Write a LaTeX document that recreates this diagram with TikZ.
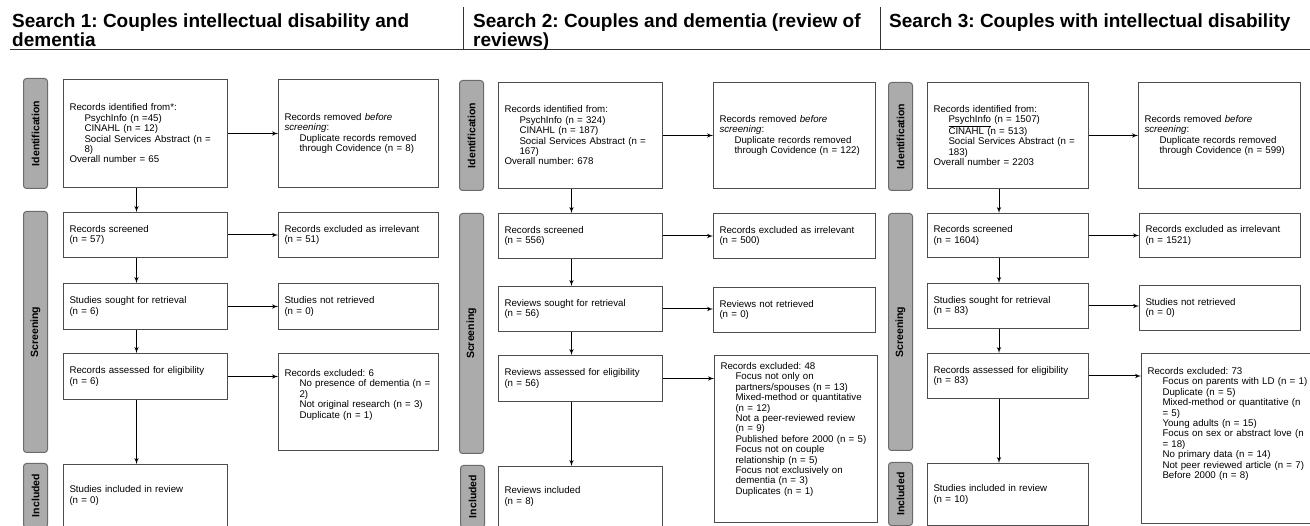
\documentclass[tikz,border=0pt]{standalone}
\usepackage{fontspec}
\setmainfont{Liberation Sans}
\usepackage{graphicx}
\usepackage{xcolor}
\usepackage{tikz}
\usetikzlibrary{positioning, arrows}
\definecolor{edgegray}{HTML}{4D4D4D}
\definecolor{phasegray}{HTML}{ABABAB}
\definecolor{phaseedge}{HTML}{6B6B6B}
\frenchspacing
\newcommand{\subind}{\hspace*{15pt}}
\newcommand{\boxfont}{\fontsize{9.7}{10.4}\selectfont}
\tikzstyle{line} = [draw, line width=1pt, -latex']
\tikzstyle{block} = [rectangle, draw=edgegray, line width=1pt, fill=white,
    anchor=north west, inner xsep=6pt, inner ysep=1pt, align=left, font=\boxfont]
\tikzstyle{phase} = [rectangle, draw=phaseedge, line width=1pt, fill=phasegray,
    rounded corners=3pt, anchor=north west, minimum width=24pt, inner sep=0pt,
    font=\fontsize{10.5}{12}\selectfont\bfseries]
\tikzstyle{heading} = [anchor=north west, inner sep=0pt, align=left,
    font=\fontsize{19}{19}\selectfont\bfseries]
\tikzstyle{rule} = [draw=black!80, line width=1pt]

\begin{document}
\begin{tikzpicture}[x=1pt, y=-1pt]
      \useasboundingbox (0,0) rectangle (1310,526);
      % Headings
      \node [heading] (head1) at (12,14) {Search 1: Couples intellectual disability and\\dementia};
      \node [heading] (head2) at (473,14) {Search 2: Couples and dementia (review of\\reviews)};
      \node [heading] (head3) at (889,14) {Search 3: Couples with intellectual disability};
      \path [rule] (10,50) -- (1310,50);
      \path [rule] (463,7) -- (463,50);
      \path [rule] (880,7) -- (880,50);
      % Place search 1 nodes
      \node [phase, minimum height=110pt] (idlab1) at (23,78) {\rotatebox{90}{Identification}};
      \node [phase, minimum height=241pt] (scrlab1) at (23,211) {\rotatebox{90}{Screening}};
      \node [phase, minimum height=64pt] (inclab1) at (23,463) {\rotatebox{90}{Included}};
      \node [block, text width=152pt, minimum height=108pt] (ident1) at (63,79) {Records identified from*:\\\subind PsychInfo (n =45)\\\subind CINAHL (n = 12)\\\subind Social Services Abstract (n =\\\subind 8)\\Overall number = 65};
      \node [block, text width=148pt, minimum height=108pt] (removed1) at (278,79) {Records removed \textit{before}\\\textit{screening}:\\\subind Duplicate records removed\\\subind through Covidence (n = 8)};
      \node [block, text width=152pt, minimum height=45pt] (screened1) at (63,212) {Records screened\\(n = 57)};
      \node [block, text width=148pt, minimum height=45pt] (irrel1) at (278,212) {Records excluded as irrelevant\\(n = 51)};
      \node [block, text width=152pt, minimum height=46pt] (sought1) at (63,283) {Studies sought for retrieval\\(n = 6)};
      \node [block, text width=148pt, minimum height=46pt] (notret1) at (278,283) {Studies not retrieved\\(n = 0)};
      \node [block, text width=152pt, minimum height=46pt] (elig1) at (63,353) {Records assessed for eligibility\\(n = 6)};
      \node [block, text width=148pt, inner ysep=16pt, text depth=58pt] (excl1) at (278,353) {Records excluded: 6\\\subind No presence of dementia (n =\\\subind 2)\\\subind Not original research (n = 3)\\\subind Duplicate (n = 1)};
      \node [block, text width=152pt, minimum height=62pt] (incl1) at (63,464) {Studies included in review\\(n = 0)};
      % Place search 2 nodes
      \node [phase, minimum height=110pt] (idlab2) at (459,80) {\rotatebox{90}{Identification}};
      \node [phase, minimum height=240pt] (scrlab2) at (459,213) {\rotatebox{90}{Screening}};
      \node [phase, minimum height=62pt] (inclab2) at (460,465) {\rotatebox{90}{Included}};
      \node [block, text width=152pt, minimum height=106pt] (ident2) at (498,82) {Records identified from:\\\subind PsychInfo (n = 324)\\\subind CINAHL (n = 187)\\\subind Social Services Abstract (n =\\\subind 167)\\Overall number: 678};
      \node [block, text width=150pt, minimum height=106pt] (removed2) at (713,82) {Records removed \textit{before}\\\textit{screening}:\\\subind Duplicate records removed\\\subind through Covidence (n = 122)};
      \node [block, text width=152pt, minimum height=45pt] (screened2) at (498,213) {Records screened\\(n = 556)};
      \node [block, text width=150pt, minimum height=45pt] (irrel2) at (713,213) {Records excluded as irrelevant\\(n = 500)};
      \node [block, text width=152pt, minimum height=45pt] (sought2) at (498,286) {Reviews sought for retrieval\\(n = 56)};
      \node [block, text width=150pt, minimum height=45pt] (notret2) at (713,287) {Reviews not retrieved\\(n = 0)};
      \node [block, text width=152pt, minimum height=46pt] (elig2) at (498,355) {Reviews assessed for eligibility\\(n = 56)};
      \node [block, text width=151pt, inner ysep=7pt, text depth=146pt] (excl2) at (714,355) {Records excluded: 48\\\subind Focus not only on\\\subind partners/spouses (n = 13)\\\subind Mixed-method or quantitative\\\subind (n = 12)\\\subind Not a peer-reviewed review\\\subind (n = 9)\\\subind Published before 2000 (n = 5)\\\subind Focus not on couple\\\subind relationship (n = 5)\\\subind Focus not exclusively on\\\subind dementia (n = 3)\\\subind Duplicates (n = 1)};
      \node [block, text width=152pt, minimum height=60pt] (incl2) at (498,466) {Reviews included\\(n = 8)};
      % Place search 3 nodes
      \node [phase, minimum height=108pt] (idlab3) at (888,82) {\rotatebox{90}{Identification}};
      \node [phase, minimum height=237pt] (scrlab3) at (888,213) {\rotatebox{90}{Screening}};
      \node [phase, minimum height=63pt] (inclab3) at (888,462) {\rotatebox{90}{Included}};
      \node [block, text width=149pt, minimum height=106pt] (ident3) at (927,82) {Records identified from:\\\subind \underline{PsychInfo} (n = 1507)\\\subind CINAHL (n = 513)\\\subind Social Services Abstract (n =\\\subind 183)\\Overall number = 2203};
      \node [block, text width=150pt, minimum height=106pt] (removed3) at (1138,82) {Records removed \textit{before}\\\textit{screening}:\\\subind Duplicate records removed\\\subind through Covidence (n = 599)};
      \node [block, text width=149pt, minimum height=44pt] (screened3) at (927,213) {Records screened\\(n = 1604)};
      \node [block, text width=149pt, minimum height=44pt] (irrel3) at (1139,213) {Records excluded as irrelevant\\(n = 1521)};
      \node [block, text width=149pt, minimum height=45pt] (sought3) at (927,283) {Studies sought for retrieval\\(n = 83)};
      \node [block, text width=149pt, minimum height=45pt] (notret3) at (1139,285) {Studies not retrieved\\(n = 0)};
      \node [block, text width=149pt, minimum height=45pt] (elig3) at (927,353) {Records assessed for eligibility\\(n = 83)};
      \node [block, text width=168pt, inner ysep=14pt, text depth=135pt] (excl3) at (1141,353) {Records excluded: 73\\\subind Focus on parents with LD (n = 1)\\\subind Duplicate (n = 5)\\\subind Mixed-method or quantitative (n\\\subind = 5)\\\subind Young adults (n = 15)\\\subind Focus on sex or abstract love (n\\\subind = 18)\\\subind No primary data (n = 14)\\\subind Not peer reviewed article (n = 7)\\\subind Before 2000 (n = 8)};
      \node [block, text width=149pt, minimum height=62pt] (incl3) at (927,463) {Studies included in review\\(n = 10)};
      % Draw edges
      \path [line] (ident1.east) -- (ident1.east -| removed1.west);
      \path [line] (screened1.east) -- (screened1.east -| irrel1.west);
      \path [line] (sought1.east) -- (sought1.east -| notret1.west);
      \path [line] (elig1.east) -- (elig1.east -| excl1.west);
      \path [line] ([xshift=-9pt]ident1.south) -- ([xshift=-9pt]screened1.north);
      \path [line] ([xshift=-9pt]screened1.south) -- ([xshift=-9pt]sought1.north);
      \path [line] ([xshift=-9pt]sought1.south) -- ([xshift=-9pt]elig1.north);
      \path [line] ([xshift=-9pt]elig1.south) -- ([xshift=-9pt]incl1.north);
      \path [line] (ident2.east) -- (ident2.east -| removed2.west);
      \path [line] (screened2.east) -- (screened2.east -| irrel2.west);
      \path [line] (sought2.east) -- (sought2.east -| notret2.west);
      \path [line] (elig2.east) -- (elig2.east -| excl2.west);
      \path [line] ([xshift=-9pt]ident2.south) -- ([xshift=-9pt]screened2.north);
      \path [line] ([xshift=-9pt]screened2.south) -- ([xshift=-9pt]sought2.north);
      \path [line] ([xshift=-9pt]sought2.south) -- ([xshift=-9pt]elig2.north);
      \path [line] ([xshift=-9pt]elig2.south) -- ([xshift=-9pt]incl2.north);
      \path [line] (ident3.east) -- (ident3.east -| removed3.west);
      \path [line] (screened3.east) -- (screened3.east -| irrel3.west);
      \path [line] (sought3.east) -- (sought3.east -| notret3.west);
      \path [line] (elig3.east) -- (elig3.east -| excl3.west);
      \path [line] ([xshift=-9pt]ident3.south) -- ([xshift=-9pt]screened3.north);
      \path [line] ([xshift=-9pt]screened3.south) -- ([xshift=-9pt]sought3.north);
      \path [line] ([xshift=-9pt]sought3.south) -- ([xshift=-9pt]elig3.north);
      \path [line] ([xshift=-9pt]elig3.south) -- ([xshift=-9pt]incl3.north);
\end{tikzpicture}
\end{document}
